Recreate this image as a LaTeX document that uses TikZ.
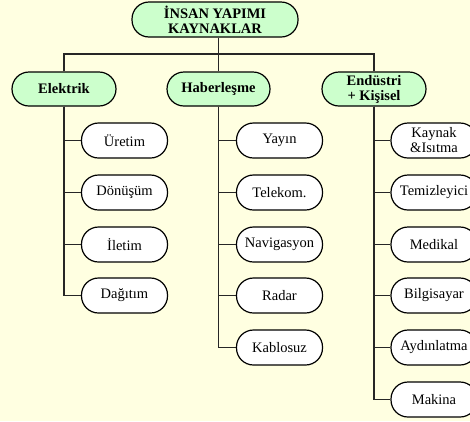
\documentclass[tikz,border=0pt]{standalone}
\usepackage{fontspec}
\setmainfont{Liberation Serif}
\begin{document}
\begin{tikzpicture}[x=1pt,y=-1pt,
  pill/.style={draw=black,line width=1.2pt,rounded corners=17pt,
    minimum height=35pt,inner sep=0pt,align=center,
    font=\fontsize{14.5}{15}\selectfont},
  headbox/.style={pill,fill=headgreen,font=\fontsize{14.5}{15}\selectfont\bfseries},
  leafbox/.style={pill,fill=white,minimum width=86pt},
  link/.style={draw=black!85,line width=1.3pt}]
\definecolor{headgreen}{HTML}{CCFFCC}
\definecolor{paper}{HTML}{FFFFE1}
% canvas
\useasboundingbox (0,0) rectangle (470,421);
\clip (0,0) rectangle (470,421);
\fill[paper] (0,0) rectangle (470,421);

% root and the three groups
\node[headbox,minimum width=166pt] (top) at (215,19.5) {İNSAN YAPIMI\\KAYNAKLAR};
\node[headbox,minimum width=104pt,minimum height=34pt] (el) at (64,89) {Elektrik};
\node[headbox,minimum width=103pt,minimum height=34pt] (ha) at (218.5,89) {Haberleşme};
\node[headbox,minimum width=104pt,minimum height=34pt] (en) at (374,89) {Endüstri\\+ Kişisel};

% Elektrik
\node[leafbox] (e1) at (124.5,140.5) {Üretim};
\node[leafbox] (e2) at (124.5,192.5) {Dönüşüm};
\node[leafbox] (e3) at (124.5,244.5) {İletim};
\node[leafbox] (e4) at (124.5,295.5) {Dağıtım};

% Haberleşme
\node[leafbox] (h1) at (279.5,140.5) {Yayın};
\node[leafbox] (h2) at (279.5,192.5) {Telekom.};
\node[leafbox] (h3) at (279.5,244.5) {Navigasyon};
\node[leafbox] (h4) at (279.5,295.5) {Radar};
\node[leafbox] (h5) at (279.5,347.5) {Kablosuz};

% Endüstri + Kişisel
\node[leafbox] (n1) at (434,140.5) {Kaynak\\\&Isıtma};
\node[leafbox] (n2) at (434,192.5) {Temizleyici};
\node[leafbox] (n3) at (434,244.5) {Medikal};
\node[leafbox] (n4) at (434,295.5) {Bilgisayar};
\node[leafbox] (n5) at (434,347.5) {Aydınlatma};
\node[leafbox] (n6) at (434,399.5) {Makina};

% connectors
\coordinate (bus) at (218.5,54);
\draw[link] (top.south -| ha.north) -- (ha.north);
\draw[link] (el.north) |- (bus) -| (en.north);
\foreach \c in {e1,e2,e3,e4} \draw[link] (el.south) |- (\c.west);
\foreach \c in {h1,h2,h3,h4,h5} \draw[link] (ha.south) |- (\c.west);
\foreach \c in {n1,n2,n3,n4,n5,n6} \draw[link] (en.south) |- (\c.west);
\end{tikzpicture}
\end{document}
